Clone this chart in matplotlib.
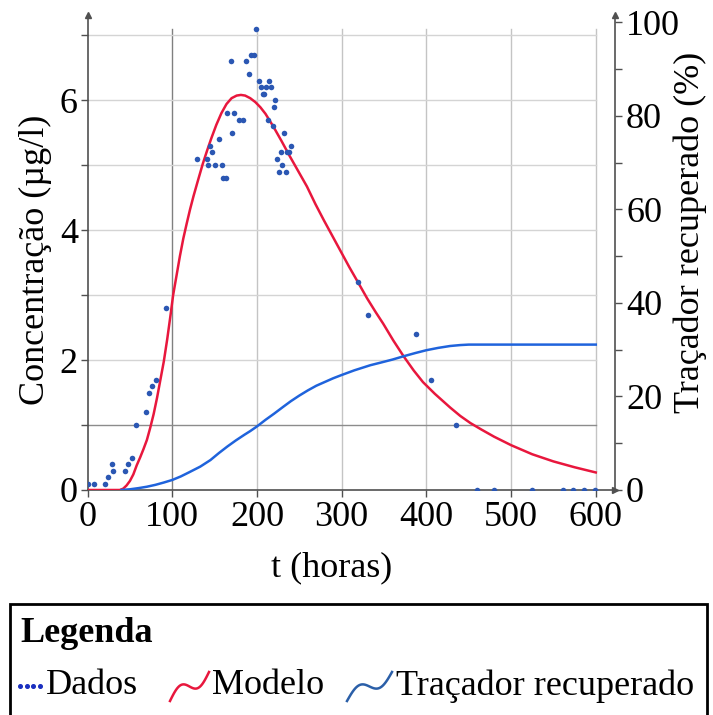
import numpy as np
import matplotlib
matplotlib.use("Agg")
import matplotlib.pyplot as plt
from matplotlib.lines import Line2D
from matplotlib.patches import Rectangle

plt.rcParams['font.family'] = ['Liberation Serif', 'DejaVu Serif']

# ---------------- data ----------------
data_t = [1, 7, 20, 24.5, 28.4, 30.4, 44.2, 48, 52, 56.8, 68.6, 72.5, 76.4, 80.8, 92.6,
          128.8, 140.6, 142.5, 144.5, 146.9, 150.4, 154.8, 158.7, 160.2, 163, 164.2, 168.9,
          170.5, 172.5, 179.1, 183, 186.6, 190.6, 192.9, 196.8, 198.8, 202.7, 204.7, 206.7,
          208.7, 210.6, 212.6, 214.5, 216.5, 218.5, 220, 221.6, 224, 226, 228, 229.9, 231.9,
          233.9, 235.8, 238, 239.8, 318.9, 330.7, 387.7, 405.4, 434.6,
          459.4, 480.2, 525, 561.6, 573.4, 586, 599]
data_c = [0.1, 0.1, 0.1, 0.2, 0.4, 0.3, 0.3, 0.4, 0.5, 1.0, 1.2, 1.5, 1.6, 1.7, 2.8,
          5.1, 5.1, 5.0, 5.3, 5.2, 5.0, 5.4, 5.0, 4.8, 4.8, 5.8, 6.6,
          5.5, 5.8, 5.7, 5.7, 6.6, 6.4, 6.7, 6.7, 7.1, 6.3, 6.2, 6.1,
          6.1, 6.2, 5.7, 6.3, 6.2, 5.6, 5.9, 6.0, 5.1, 4.9, 5.2, 5.0, 5.5,
          4.9, 5.2, 5.2, 5.3, 3.2, 2.7, 2.4, 1.7, 1.0,
          0, 0, 0, 0, 0, 0, 0]

model_t = [0, 38, 42, 46, 50, 54, 58, 62, 66, 70, 74, 78, 82, 86, 90, 94, 98, 101, 105,
           109, 113, 117, 121, 125, 130, 136, 141, 146, 152, 158, 164, 170, 176, 181, 186,
           192, 198, 204, 210, 219, 229, 239, 249, 259, 269, 279, 289, 299, 309, 320, 330,
           340, 349, 361, 373, 385, 396, 410, 428, 440, 452, 465, 480, 500, 525, 550, 575, 600]
model_c = [0, 0, 0.02, 0.07, 0.14, 0.24, 0.38, 0.5, 0.63, 0.77, 0.96, 1.17, 1.42, 1.70,
           1.98, 2.32, 2.70, 3.0, 3.3, 3.6, 3.87, 4.1, 4.32, 4.52, 4.75, 5.02, 5.22, 5.41,
           5.62, 5.80, 5.94, 6.03, 6.07, 6.08, 6.07, 6.03, 5.97, 5.89, 5.79, 5.6, 5.37, 5.13,
           4.9, 4.67, 4.4, 4.15, 3.91, 3.67, 3.43, 3.18, 2.95, 2.74, 2.56, 2.3, 2.06, 1.84,
           1.66, 1.48, 1.27, 1.14, 1.03, 0.93, 0.82, 0.69, 0.55, 0.44, 0.35, 0.27]

rec_t = [40, 50, 60, 70, 80, 90, 100, 110, 120, 133, 145, 155, 165, 175, 185, 192, 200,
         210, 220, 231, 240, 250, 260, 270, 280, 290, 300, 315, 334, 345, 360, 373, 387,
         400, 414, 428, 440, 450, 600]
rec_p = [0, 0.15, 0.4, 0.7, 1.1, 1.6, 2.15, 2.9, 3.8, 5.0, 6.4, 7.9, 9.3, 10.6, 11.8,
         12.6, 13.6, 15.0, 16.3, 17.8, 19.0, 20.2, 21.3, 22.3, 23.1, 23.9, 24.6, 25.6,
         26.7, 27.2, 27.9, 28.6, 29.3, 29.9, 30.4, 30.8, 31.0, 31.1, 31.1]

x_ticks = [0, 100, 200, 300, 400, 500, 600]
y_major = [0, 2, 4, 6]
y_minor = [1, 3, 5, 7]
r_major = [0, 20, 40, 60, 80, 100]
r_minor = [10, 30, 50, 70, 90]

# ---------------- figure ----------------
W, H = 713, 715
fig = plt.figure(figsize=(W / 100, H / 100), dpi=100)

def fx(px):
    return np.asarray(px) / W

def fy(py):
    return 1 - np.asarray(py) / H

L, R, B, T = 87.6, 615.0, 490.0, 15.0
ax = fig.add_axes([fx(L), fy(B), (R - L) / W, (B - T) / H])
ax.set_xlim(0, 622.7)
ax.set_ylim(0, 7.31)
ax2 = ax.twinx()
ax2.set_ylim(0, 101.6)

spine_col = '#505050'
FS = 26

# grid
for xv in x_ticks[1:]:
    ax.plot([xv, xv], [0, 7.1], color='#808080' if xv == 100 else '#c4c4c4',
            lw=1.0, zorder=0.5)
for yv in range(1, 8):
    ax.plot([0, 600], [yv, yv], color='#8c8c8c' if yv == 1 else '#d4d4d4',
            lw=1.0, zorder=0.5)

ax.plot(model_t, model_c, color='#e8173d', lw=1.8, zorder=3)
ax.scatter(data_t, data_c, s=16, color='#2b57b3', zorder=4, linewidths=0)
ax2.plot(rec_t, rec_p, color='#1f63dc', lw=1.8, zorder=3)

# spines
for s in ['top', 'right']:
    ax.spines[s].set_visible(False)
for s in ['top', 'left', 'bottom']:
    ax2.spines[s].set_visible(False)
for sp in [ax.spines['left'], ax.spines['bottom'], ax2.spines['right']]:
    sp.set_color(spine_col)
    sp.set_linewidth(1.2)

ax.set_xticks(x_ticks)
ax.set_yticks(y_major)
ax.set_yticks(y_minor, minor=True)
ax2.set_yticks(r_major)
ax2.set_yticks(r_minor, minor=True)
ax.tick_params(axis='x', direction='out', length=5, width=1, color=spine_col,
               labelsize=FS, pad=3)
ax.tick_params(axis='y', which='both', direction='out', length=5, width=1,
               color=spine_col, labelsize=FS, pad=2)
ax2.tick_params(axis='y', which='both', direction='out', length=5, width=1,
                color=spine_col, labelsize=FS, pad=3)

# arrowheads
ax.plot(0, 1, marker='^', ms=4, color=spine_col, transform=ax.transAxes, clip_on=False)
ax.plot(1, 0, marker='>', ms=4, color=spine_col, transform=ax.transAxes, clip_on=False)
ax2.plot(1, 1, marker='^', ms=4, color=spine_col, transform=ax2.transAxes, clip_on=False)

# axis labels
fig.text(fx(35), fy(260), 'Concentração (µg/l)', rotation=90, ha='center',
         va='center', fontsize=FS)
fig.text(fx(690), fy(232), 'Traçador recuperado (%)', rotation=90, ha='center',
         va='center', fontsize=FS)
fig.text(fx(332), fy(568), 't (horas)', ha='center', va='center', fontsize=FS)

# legend box
fig.patches.append(Rectangle((fx(10), fy(740)), fx(707) - fx(10), fy(604) - fy(740),
                             transform=fig.transFigure, fill=False, lw=2,
                             edgecolor='black'))
fig.text(fx(20), fy(633), 'Legenda', ha='left', va='center', fontsize=FS,
         fontweight='bold')
row_y = 686
for px in [20, 26.5, 33, 39.5]:
    fig.add_artist(Line2D([fx(px)], [fy(row_y)], marker='o', ms=2.6, color='#1a2fc0',
                          transform=fig.transFigure))
fig.text(fx(46), fy(row_y), 'Dados', ha='left', va='center', fontsize=FS)

tt = np.linspace(0, 1, 60)

def squiggle(x0, x1, col):
    xs = x0 + (x1 - x0) * tt
    ys = 701 - 29 * tt - 8 * np.sin(2 * np.pi * tt)
    fig.add_artist(Line2D(fx(xs), fy(ys), color=col, lw=1.8,
                          transform=fig.transFigure))

squiggle(170, 209, '#e8173d')
fig.text(fx(212), fy(row_y), 'Modelo', ha='left', va='center', fontsize=FS)
squiggle(347, 392, '#2b5fa8')
fig.text(fx(396), fy(row_y), 'Traçador recuperado', ha='left', va='center', fontsize=FS)

fig.savefig('out.png', dpi=100)
